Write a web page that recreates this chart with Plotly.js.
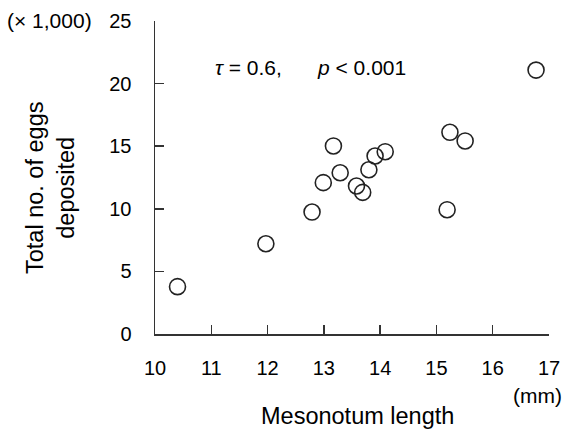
<!DOCTYPE html>
<html>
<head>
<meta charset="utf-8">
<script src="https://cdn.plot.ly/plotly-3.0.1.min.js"></script>
<style>html,body{margin:0;padding:0;background:#fff;}#chart{width:564px;height:430px;}</style>
</head>
<body>
<div id="chart"></div>
<script>
// Mesonotum length (mm) and total no. of eggs deposited (x 1,000)
const mesonotumLength = [10.40, 11.97, 12.79, 12.99, 13.17, 13.29, 13.58, 13.69, 13.80, 13.91, 14.09, 15.19, 15.24, 15.51, 16.77];
const eggsDeposited   = [3.78, 7.21, 9.74, 12.09, 15.02, 12.88, 11.82, 11.31, 13.12, 14.22, 14.56, 9.93, 16.11, 15.42, 21.08];
const xTickValues = [10, 11, 12, 13, 14, 15, 16, 17];
const yTickValues = [0, 5, 10, 15, 20, 25];

const FONT = 'Liberation Sans, Arial, sans-serif';
const L = 155, R = 15, T = 21, B = 96;
const W = 564, H = 430;
const pw = W - L - R, ph = H - T - B;
const px = v => (v - L) / pw;
const py = v => (H - B - v) / ph;

const trace = {
  x: mesonotumLength,
  y: eggsDeposited,
  type: 'scatter',
  mode: 'markers',
  marker: {symbol: 'circle', size: 16, color: 'rgba(255,255,255,0)', line: {color: '#222', width: 1.6}},
  cliponaxis: false,
  hoverinfo: 'x+y'
};

const layout = {
  width: W, height: H,
  margin: {l: L, r: R, t: T, b: B, pad: 0},
  paper_bgcolor: '#fff', plot_bgcolor: '#fff',
  showlegend: false,
  font: {family: FONT, size: 20, color: '#000'},
  xaxis: {
    range: [10, 17], tickvals: xTickValues, ticks: 'inside', ticklen: 9, tickwidth: 1.5, tickcolor: '#333',
    showline: true, linecolor: '#333', linewidth: 1.5, showgrid: false, zeroline: false,
    tickfont: {family: FONT, size: 20, color: '#000'}, ticklabelstandoff: 15, fixedrange: true
  },
  yaxis: {
    range: [0, 25], tickvals: yTickValues, ticks: 'inside', ticklen: 9, tickwidth: 1.5, tickcolor: '#333',
    showline: true, linecolor: '#333', linewidth: 1.5, showgrid: false, zeroline: false,
    tickfont: {family: FONT, size: 20, color: '#000'}, ticklabelstandoff: 18, fixedrange: true
  },
  annotations: [
    {xref: 'paper', yref: 'paper', x: px(51), y: py(188), xanchor: 'center', yanchor: 'middle', textangle: -90,
     text: 'Total no. of eggs<br>deposited', showarrow: false, font: {family: FONT, size: 23.5, color: '#000'}},
    {xref: 'paper', yref: 'paper', x: px(357.5), y: py(416), xanchor: 'center', yanchor: 'middle',
     text: 'Mesonotum length', showarrow: false, font: {family: FONT, size: 23.5, color: '#000'}},
    {xref: 'paper', yref: 'paper', x: px(537.5), y: py(396), xanchor: 'center', yanchor: 'middle',
     text: '(mm)', showarrow: false, font: {family: FONT, size: 21, color: '#000'}},
    {xref: 'paper', yref: 'paper', x: px(49.5), y: py(20), xanchor: 'center', yanchor: 'middle',
     text: '(× 1,000)', showarrow: false, font: {family: FONT, size: 21, color: '#000'}},
    {xref: 'paper', yref: 'paper', x: px(213), y: py(68), xanchor: 'left', yanchor: 'middle',
     text: '<i>τ</i> = 0.6,', showarrow: false, font: {family: FONT, size: 21, color: '#000'}},
    {xref: 'paper', yref: 'paper', x: px(315), y: py(68), xanchor: 'left', yanchor: 'middle',
     text: '<i>p</i> < 0.001', showarrow: false, font: {family: FONT, size: 21, color: '#000'}}
  ]
};

Plotly.newPlot('chart', [trace], layout, {displayModeBar: false, staticPlot: true});
</script>
</body>
</html>
